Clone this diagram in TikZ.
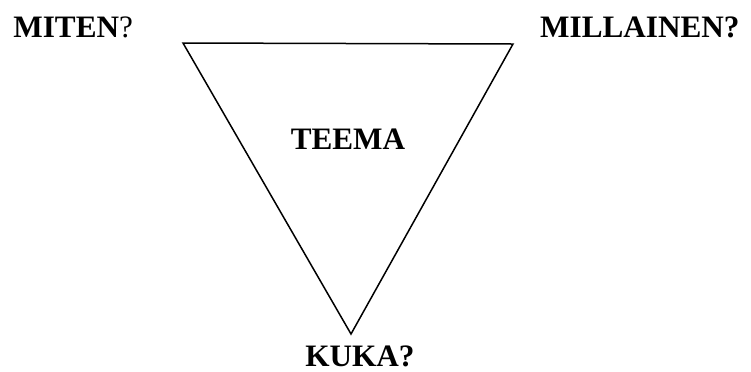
\documentclass[tikz,border=0pt]{standalone}
\usepackage{fontspec}
\setmainfont{Liberation Serif}
\usepackage{tikz}
\usetikzlibrary{positioning}
\tikzset{
  label/.style={
    inner sep = 0pt,
    font = \fontsize{15.6}{19}\selectfont\bfseries
  },
  edge/.style={
    line width = 0.75pt,
    line join = miter
  }
}

\begin{document}
\begin{tikzpicture}[x=0.5pt,y=-0.5pt]
    \useasboundingbox (0,0) rectangle (751,371);
    % triangle corners
    \coordinate (tl) at (183,43);
    \coordinate (tr) at (513,44);
    \coordinate (bt) at (351,334);
    \draw[edge] (tl) -- (tr) -- (bt) -- cycle;

    \node[label, anchor=base west] (miten) at (13,37) {MITEN\mdseries?};
    \node[label, anchor=base east] (millainen) at (740,37) {MILLAINEN?};
    \node[label, anchor=base] (teema) at (348,149) {TEEMA};
    \node[label, anchor=base] (kuka) at (360,366) {KUKA?};
\end{tikzpicture}
\end{document}
